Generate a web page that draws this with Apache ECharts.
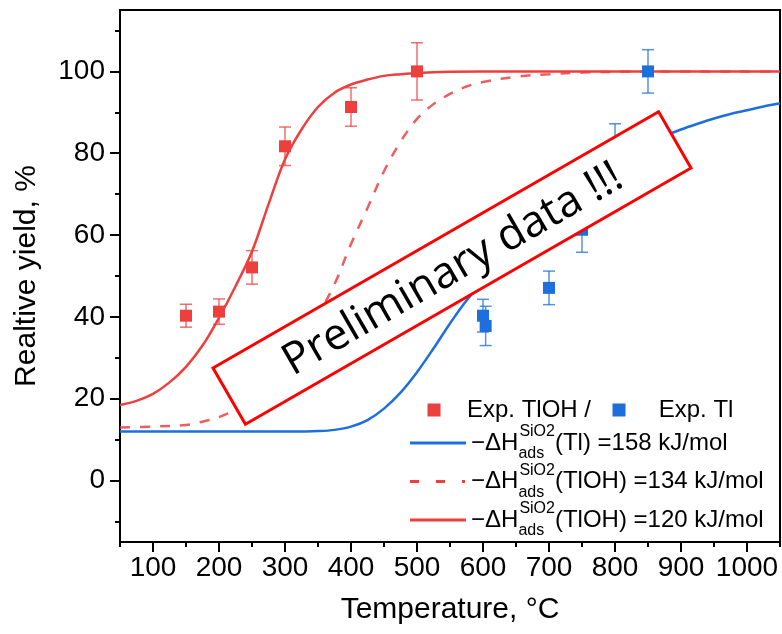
<!DOCTYPE html>
<html>
<head>
<meta charset="utf-8">
<script src="https://cdn.jsdelivr.net/npm/echarts@6.0.0/dist/echarts.min.js"></script>
<style>html,body{margin:0;padding:0;background:#fff}#c{width:782px;height:634px}</style>
</head>
<body>
<div id="c"></div>
<script>
// ---- data ----
const redT   = [150, 200, 250, 300, 400, 500];
const redY   = [40.3, 41.3, 52.1, 81.7, 91.3, 100.0];
const redErr = [2.8, 3.1, 4.1, 4.7, 4.7, 7.0];

const blueT   = [600, 604, 700, 750, 800, 850];
const blueY   = [40.3, 37.8, 47.1, 61.3, 81.7, 100.0];
const blueErr = [4.0, 4.8, 4.1, 5.5, 5.5, 5.3];

const fitT158 = [50,100,150,200,250,300,325,350,375,400,425,450,475,500,525,550,575,600,625,650,675,700,725,750,775,800,825,850,875,900,925,950,975,1000,1025,1050];
const fitY158 = [12,12,12,12,12,12,12.02,12.1,12.4,13.2,14.8,17.6,21.5,26.5,32.3,38.4,44,48.6,53.3,57.8,62,66,69.5,72.7,75.5,78,80.3,82.3,84.2,85.8,87.2,88.5,89.6,90.5,91.4,92.2];

const fitT134 = [50,100,150,175,200,225,250,275,300,325,350,375,400,425,450,475,500,525,550,575,600,650,700,750,800,850,900,950,1000,1050];
const fitY134 = [13,13.2,13.6,14.4,15.5,17.3,20,24,29,34.5,40.5,48,57.8,66.6,75.6,82.8,88.4,92,94.5,96.3,97.4,98.7,99.3,99.7,99.9,100,100,100,100,100];

const fitT120 = [50,75,100,125,150,175,200,225,250,275,300,325,350,375,400,425,450,475,500,550,600,700,800,900,1000,1050];
const fitY120 = [18.5,19.5,21.2,24,27.8,33,39.8,47.5,56,67.5,78.5,85.8,91.3,94.8,96.8,98,98.9,99.3,99.6,99.9,100,100,100,100,100,100];

const xMajor = [100,200,300,400,500,600,700,800,900,1000];
const xMinor = [50,150,250,350,450,550,650,750,850,950,1050];
const yMajor = [0,20,40,60,80,100];
const yMinor = [-10,10,30,50,70,90,110];

const names = {
  expRed: 'Exp. TlOH /',
  expBlue: 'Exp. Tl',
  l158: 'fit158',
  l134: 'fit134',
  l120: 'fit120'
};
const legendRich = {
  fit158: '{m|−ΔH}{b|ads}{t|SiO2}{m|(Tl) =158 kJ/mol}',
  fit134: '{m|−ΔH}{b|ads}{t|SiO2}{m|(TlOH) =134 kJ/mol}',
  fit120: '{m|−ΔH}{b|ads}{t|SiO2}{m|(TlOH) =120 kJ/mol}'
};

const RED = '#EE3F3F';
const BLUE = '#1C6FDC';
const FONT = 'Liberation Sans, Arial, sans-serif';

// legend icon shapes
const SQ_ICON = 'path://M0,0h0.01v0.01h-0.01Z M21.5,0h13v13h-13Z M55.99,12.99h0.01v0.01h-0.01Z';
const SOLID_ICON = 'path://M0,0H56V3H0Z';
const DASH_ICON = 'path://M0,0H9V3H0Z M26,0H35V3H26Z M52,0H55V3H52Z M55.99,0H56V0.01H55.99Z';

function pairs(xs, ys) { return xs.map((x, i) => [x, ys[i]]); }
function errData(xs, ys, es) { return xs.map((x, i) => [x, ys[i], es[i]]); }

function errRender(color) {
  return function (params, api) {
    const x = api.value(0), y = api.value(1), e = api.value(2);
    const t = api.coord([x, y + e]);
    const b = api.coord([x, y - e]);
    const c = 6;
    const st = { stroke: color, lineWidth: 1.5, opacity: 0.75 };
    return {
      type: 'group',
      children: [
        { type: 'line', shape: { x1: t[0], y1: t[1], x2: b[0], y2: b[1] }, style: st },
        { type: 'line', shape: { x1: t[0] - c, y1: t[1], x2: t[0] + c, y2: t[1] }, style: st },
        { type: 'line', shape: { x1: b[0] - c, y1: b[1], x2: b[0] + c, y2: b[1] }, style: st }
      ]
    };
  };
}

const chart = echarts.init(document.getElementById('c'), null, { renderer: 'canvas' });

const axisLineStyle = { color: '#000', width: 2 };
const plain = v => String(v);

const option = {
  animation: false,
  backgroundColor: '#fff',
  grid: { left: 120, right: 2, top: 10, bottom: 92, show: true, borderColor: '#000', borderWidth: 2, containLabel: false },
  xAxis: [
    {
      type: 'value', min: 50, max: 1050, position: 'bottom',
      name: 'Temperature, °C', nameLocation: 'middle', nameGap: 53,
      nameTextStyle: { fontFamily: FONT, fontSize: 30, color: '#000', verticalAlign: 'top' },
      axisLine: { show: true, onZero: false, lineStyle: axisLineStyle },
      axisTick: { show: true, inside: false, length: 10, lineStyle: { color: '#000', width: 2 }, customValues: xMajor },
      axisLabel: { show: true, margin: 12, fontFamily: FONT, fontSize: 28, color: '#000', customValues: xMajor, formatter: plain },
      splitLine: { show: false }
    },
    {
      type: 'value', min: 50, max: 1050, position: 'bottom',
      axisLine: { show: false, onZero: false },
      axisTick: { show: true, inside: false, length: 5, lineStyle: { color: '#000', width: 2 }, customValues: xMinor },
      axisLabel: { show: false },
      splitLine: { show: false }
    }
  ],
  yAxis: [
    {
      type: 'value', min: -15, max: 115, position: 'left',
      name: 'Realtive yield, %', nameLocation: 'middle', nameGap: 78, nameRotate: 90,
      nameTextStyle: { fontFamily: FONT, fontSize: 30, color: '#000' },
      axisLine: { show: true, onZero: false, lineStyle: axisLineStyle },
      axisTick: { show: true, inside: false, length: 10, lineStyle: { color: '#000', width: 2 }, customValues: yMajor },
      axisLabel: { show: true, margin: 15, fontFamily: FONT, fontSize: 28, color: '#000', customValues: yMajor, formatter: plain },
      splitLine: { show: false }
    },
    {
      type: 'value', min: -15, max: 115, position: 'left',
      axisLine: { show: false, onZero: false },
      axisTick: { show: true, inside: false, length: 5, lineStyle: { color: '#000', width: 2 }, customValues: yMinor },
      axisLabel: { show: false },
      splitLine: { show: false }
    }
  ],
  legend: [
    {
      data: [{ name: names.expRed, icon: SQ_ICON }, { name: names.expBlue, icon: SQ_ICON }],
      orient: 'horizontal', left: 401, top: 391,
      itemWidth: 56, itemHeight: 13, itemGap: 0, symbolKeepAspect: false,
      formatter: function (n) { return n === names.expBlue ? ' ' + n : n; },
      textStyle: { fontFamily: FONT, fontSize: 24, color: '#000', lineHeight: 28 }
    },
    {
      data: [{ name: names.l158, icon: SOLID_ICON }, { name: names.l134, icon: DASH_ICON }, { name: names.l120, icon: SOLID_ICON }],
      orient: 'vertical', left: 405, top: 419,
      itemWidth: 56, itemHeight: 3, itemGap: 0.5, symbolKeepAspect: false,
      formatter: function (n) { return legendRich[n]; },
      textStyle: {
        fontFamily: FONT, color: '#000',
        rich: {
          m: { fontFamily: FONT, fontSize: 24, color: '#000', lineHeight: 38, verticalAlign: 'middle' },
          b: { fontFamily: FONT, fontSize: 16, color: '#000', lineHeight: 16, width: 1, verticalAlign: 'bottom' },
          t: { fontFamily: FONT, fontSize: 16, color: '#000', lineHeight: 16, verticalAlign: 'top' }
        }
      }
    }
  ],
  series: [
    {
      name: names.l158, type: 'line', xAxisIndex: 0, yAxisIndex: 0,
      data: pairs(fitT158, fitY158), smooth: 0.35,
      symbol: 'none', showSymbol: false,
      lineStyle: { color: BLUE, width: 2.5 }, itemStyle: { color: BLUE }, z: 2
    },
    {
      name: names.l134, type: 'line', xAxisIndex: 0, yAxisIndex: 0,
      data: pairs(fitT134, fitY134), smooth: 0.35,
      symbol: 'none', showSymbol: false,
      lineStyle: { color: RED, width: 2.5, type: [10, 10], opacity: 0.85 }, itemStyle: { color: RED }, z: 2
    },
    {
      name: names.l120, type: 'line', xAxisIndex: 0, yAxisIndex: 0,
      data: pairs(fitT120, fitY120), smooth: 0.35,
      symbol: 'none', showSymbol: false,
      lineStyle: { color: RED, width: 2.5 }, itemStyle: { color: RED }, z: 2
    },
    {
      name: 'errRed', type: 'custom', xAxisIndex: 0, yAxisIndex: 0,
      data: errData(redT, redY, redErr), renderItem: errRender(RED),
      encode: { x: 0, y: 1 }, z: 3, silent: true
    },
    {
      name: 'errBlue', type: 'custom', xAxisIndex: 0, yAxisIndex: 0,
      data: errData(blueT, blueY, blueErr), renderItem: errRender(BLUE),
      encode: { x: 0, y: 1 }, z: 3, silent: true
    },
    {
      name: names.expRed, type: 'scatter', xAxisIndex: 0, yAxisIndex: 0,
      data: pairs(redT, redY), symbol: 'rect', symbolSize: 12,
      itemStyle: { color: RED, opacity: 1 }, z: 4
    },
    {
      name: names.expBlue, type: 'scatter', xAxisIndex: 0, yAxisIndex: 0,
      data: pairs(blueT, blueY), symbol: 'rect', symbolSize: 12,
      itemStyle: { color: BLUE, opacity: 1 }, z: 4
    }
  ],
  graphic: [
    {
      type: 'group', x: 452, y: 268, rotation: 29.9 * Math.PI / 180, z: 100,
      children: [
        { type: 'rect', shape: { x: -257, y: -32.5, width: 514, height: 65 },
          style: { fill: '#fff', stroke: '#FF0000', lineWidth: 3 }, z: 100 },
        { type: 'text', x: 0, y: 2, z: 101,
          style: { text: 'Preliminary data !!!', fontFamily: 'Open Sans, Noto Sans, sans-serif', fontSize: 44,
                   fill: '#000', align: 'center', verticalAlign: 'middle' } }
      ]
    }
  ]
};
chart.setOption(option);
</script>
</body>
</html>
